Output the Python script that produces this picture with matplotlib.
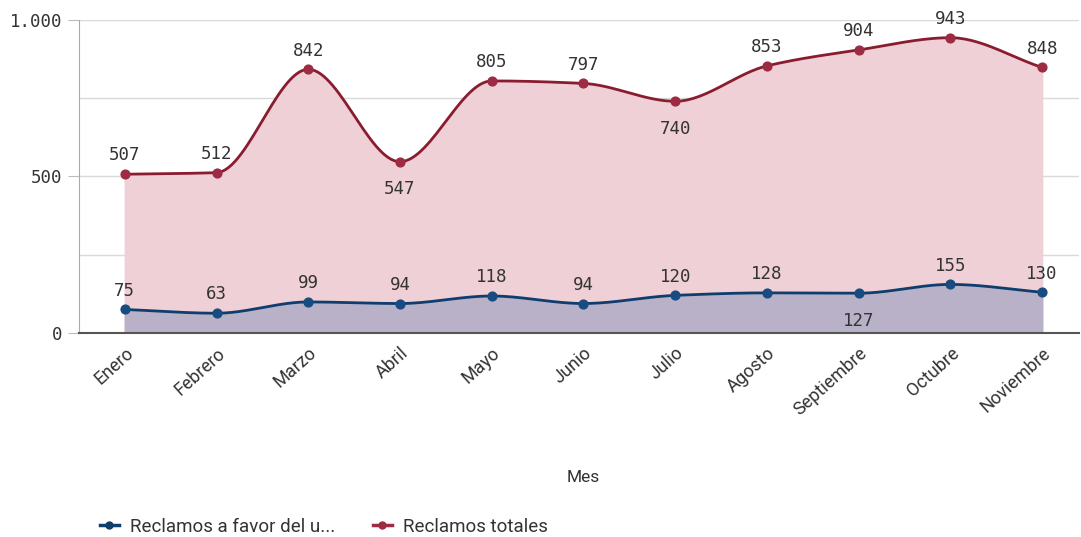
import numpy as np
import matplotlib
matplotlib.use("Agg")
import matplotlib.pyplot as plt

meses = ["Enero", "Febrero", "Marzo", "Abril", "Mayo", "Junio", "Julio",
         "Agosto", "Septiembre", "Octubre", "Noviembre"]
totales = [507, 512, 842, 547, 805, 797, 740, 853, 904, 943, 848]
a_favor = [75, 63, 99, 94, 118, 94, 120, 128, 127, 155, 130]
# etiquetas debajo del punto
abajo_tot = {3, 6}
abajo_fav = {8}

ROJO, ROJO_PT, ROSA = "#8a1c30", "#9c2b43", "#efd0d6"
AZUL, AZUL_PT, LILA = "#0e3d6e", "#184b80", "#b9b1c8"
TXT = "#333333"
MONO = "DejaVu Sans Mono"
SANS = "Roboto"


def pchip(y, n=30):
    """Curva monótona (Fritsch-Carlson) para el trazo suavizado."""
    y = np.asarray(y, float)
    x = np.arange(len(y), dtype=float)
    d = np.diff(y)
    m = np.zeros_like(y)
    for i in range(1, len(y) - 1):
        if d[i - 1] * d[i] > 0:
            m[i] = 2 / (1 / d[i - 1] + 1 / d[i])
    m[0], m[-1] = d[0], d[-1]
    xs, ys = [], []
    for i in range(len(y) - 1):
        t = np.linspace(0, 1, n, endpoint=False)
        h00 = 2 * t**3 - 3 * t**2 + 1
        h10 = t**3 - 2 * t**2 + t
        h01 = -2 * t**3 + 3 * t**2
        h11 = t**3 - t**2
        xs.append(x[i] + t)
        ys.append(h00 * y[i] + h10 * m[i] + h01 * y[i + 1] + h11 * m[i + 1])
    xs.append([x[-1]])
    ys.append([y[-1]])
    return np.concatenate(xs), np.concatenate(ys)


fig = plt.figure(figsize=(10.81, 5.37), dpi=100)
ax = fig.add_axes([0.073, 0.380, 0.925, 0.583])
x = np.arange(len(meses))

xt, yt = pchip(totales)
xf, yf = pchip(a_favor)
ax.fill_between(xt, 0, yt, color=ROSA, zorder=1)
ax.fill_between(xf, 0, yf, color=LILA, zorder=2)
ax.plot(xt, yt, color=ROJO, lw=2, zorder=4)
ax.plot(xf, yf, color=AZUL, lw=2, zorder=4)
ax.scatter(x, totales, s=40, color=ROJO_PT, zorder=5)
ax.scatter(x, a_favor, s=40, color=AZUL_PT, zorder=5)

for serie, abajo in [(totales, abajo_tot), (a_favor, abajo_fav)]:
    for i, v in enumerate(serie):
        off = -20 if i in abajo else 7
        ax.annotate(str(v), (i, v), textcoords="offset points", xytext=(0, off),
                    ha="center", va="bottom" if off > 0 else "center",
                    fontsize=12.5, family=MONO, color=TXT, zorder=6)

ax.set_xlim(-0.5, 10.4)
ax.set_ylim(0, 1000)
ax.set_yticks([0, 500, 1000])
ax.set_yticklabels(["0", "500", "1.000"], family=MONO, fontsize=12.5, color=TXT)
ax.set_yticks([250, 750], minor=True)
ax.grid(axis="y", which="both", color="#d9d9d9", lw=1, zorder=0)
ax.set_axisbelow(True)
ax.tick_params(axis="y", which="major", length=8, color="#bbbbbb", pad=4)
ax.tick_params(axis="y", which="minor", length=0)
ax.set_xticks(x)
ax.set_xticklabels(meses, rotation=42, ha="right", rotation_mode="anchor",
                   family=SANS, fontsize=13, color=TXT)
ax.tick_params(axis="x", length=0, pad=8)
for s in ["top", "right"]:
    ax.spines[s].set_visible(False)
ax.spines["left"].set_color("#aaaaaa")
ax.spines["bottom"].set_color("#555555")
ax.spines["bottom"].set_linewidth(1.5)

fig.text(583 / 1081, 1 - 478 / 537, "Mes", ha="center", va="center",
         family=SANS, fontsize=12.5, color=TXT)

h1, = ax.plot([], [], "-o", color=AZUL, ms=5, lw=2.5)
h2, = ax.plot([], [], "-o", color=ROJO_PT, ms=5, lw=2.5)
fig.legend([h1, h2], ["Reclamos a favor del u...", "Reclamos totales"],
           loc="center left", bbox_to_anchor=(0.077, 1 - 527 / 537),
           ncol=2, frameon=False, handlelength=1.0, handletextpad=0.6,
           columnspacing=2.0, prop={"family": SANS, "size": 13.5},
           labelcolor=TXT)

fig.savefig("out.png", dpi=100)
